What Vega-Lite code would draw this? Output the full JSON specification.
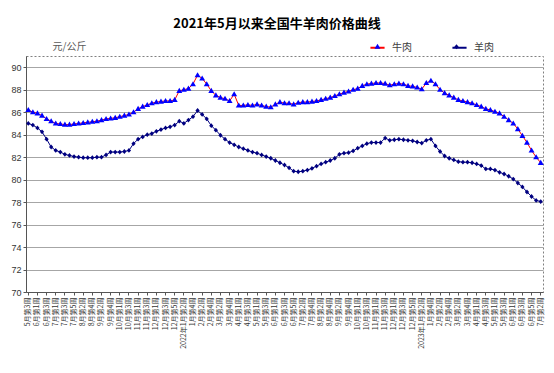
{
  "$schema": "https://vega.github.io/schema/vega-lite/v6.json",
  "width": 517,
  "height": 236,
  "autosize": {"type": "none"},
  "padding": {"left": 26, "top": 56, "right": 11, "bottom": 81},
  "background": "white",
  "title": {"text": "2021年5月以来全国牛羊肉价格曲线", "font": "Noto Sans CJK SC", "fontSize": 13, "fontWeight": "bold", "color": "#000000", "anchor": "middle", "dx": -7.5, "offset": 8},
  "data": {"values": [
    {"week": "2021年5月第3周", "牛肉": 86.2, "羊肉": 85.0},
    {"week": "2021年5月第4周", "牛肉": 86.0, "羊肉": 84.85},
    {"week": "2021年6月第1周", "牛肉": 85.9, "羊肉": 84.6},
    {"week": "2021年6月第2周", "牛肉": 85.7, "羊肉": 84.25},
    {"week": "2021年6月第3周", "牛肉": 85.4, "羊肉": 83.6},
    {"week": "2021年6月第4周", "牛肉": 85.2, "羊肉": 82.9},
    {"week": "2021年7月第1周", "牛肉": 85.0, "羊肉": 82.6},
    {"week": "2021年7月第2周", "牛肉": 84.95, "羊肉": 82.45},
    {"week": "2021年7月第3周", "牛肉": 84.9, "羊肉": 82.25},
    {"week": "2021年7月第4周", "牛肉": 84.9, "羊肉": 82.15},
    {"week": "2021年7月第5周", "牛肉": 84.95, "羊肉": 82.05},
    {"week": "2021年8月第1周", "牛肉": 85.0, "羊肉": 82.0},
    {"week": "2021年8月第2周", "牛肉": 85.05, "羊肉": 81.95},
    {"week": "2021年8月第3周", "牛肉": 85.1, "羊肉": 81.95},
    {"week": "2021年8月第4周", "牛肉": 85.15, "羊肉": 81.95},
    {"week": "2021年9月第1周", "牛肉": 85.2, "羊肉": 82.0},
    {"week": "2021年9月第2周", "牛肉": 85.3, "羊肉": 82.0},
    {"week": "2021年9月第3周", "牛肉": 85.4, "羊肉": 82.2},
    {"week": "2021年9月第4周", "牛肉": 85.45, "羊肉": 82.45},
    {"week": "2021年9月第5周", "牛肉": 85.5, "羊肉": 82.45},
    {"week": "2021年10月第1周", "牛肉": 85.6, "羊肉": 82.45},
    {"week": "2021年10月第2周", "牛肉": 85.7, "羊肉": 82.5},
    {"week": "2021年10月第3周", "牛肉": 85.8, "羊肉": 82.6},
    {"week": "2021年10月第4周", "牛肉": 86.0, "羊肉": 83.2},
    {"week": "2021年11月第1周", "牛肉": 86.3, "羊肉": 83.6},
    {"week": "2021年11月第2周", "牛肉": 86.5, "羊肉": 83.8},
    {"week": "2021年11月第3周", "牛肉": 86.65, "羊肉": 84.0},
    {"week": "2021年11月第4周", "牛肉": 86.8, "羊肉": 84.1},
    {"week": "2021年12月第1周", "牛肉": 86.9, "羊肉": 84.3},
    {"week": "2021年12月第2周", "牛肉": 86.95, "羊肉": 84.45},
    {"week": "2021年12月第3周", "牛肉": 87.0, "羊肉": 84.6},
    {"week": "2021年12月第4周", "牛肉": 87.0, "羊肉": 84.7},
    {"week": "2021年12月第5周", "牛肉": 87.1, "羊肉": 84.85},
    {"week": "2022年1月第1周", "牛肉": 87.9, "羊肉": 85.2},
    {"week": "2022年1月第2周", "牛肉": 88.0, "羊肉": 85.0},
    {"week": "2022年1月第3周", "牛肉": 88.1, "羊肉": 85.3},
    {"week": "2022年1月第4周", "牛肉": 88.5, "羊肉": 85.6},
    {"week": "2022年2月第1周", "牛肉": 89.3, "羊肉": 86.15},
    {"week": "2022年2月第2周", "牛肉": 89.0, "羊肉": 85.8},
    {"week": "2022年2月第3周", "牛肉": 88.5, "羊肉": 85.4},
    {"week": "2022年2月第4周", "牛肉": 87.9, "羊肉": 84.8},
    {"week": "2022年3月第1周", "牛肉": 87.5, "羊肉": 84.4},
    {"week": "2022年3月第2周", "牛肉": 87.3, "羊肉": 83.95},
    {"week": "2022年3月第3周", "牛肉": 87.2, "羊肉": 83.6},
    {"week": "2022年3月第4周", "牛肉": 87.0, "羊肉": 83.3},
    {"week": "2022年3月第5周", "牛肉": 87.6, "羊肉": 83.1},
    {"week": "2022年4月第1周", "牛肉": 86.6, "羊肉": 82.9},
    {"week": "2022年4月第2周", "牛肉": 86.6, "羊肉": 82.75},
    {"week": "2022年4月第3周", "牛肉": 86.65, "羊肉": 82.6},
    {"week": "2022年4月第4周", "牛肉": 86.6, "羊肉": 82.45},
    {"week": "2022年5月第1周", "牛肉": 86.7, "羊肉": 82.35},
    {"week": "2022年5月第2周", "牛肉": 86.6, "羊肉": 82.2},
    {"week": "2022年5月第3周", "牛肉": 86.5, "羊肉": 82.05},
    {"week": "2022年5月第4周", "牛肉": 86.45, "羊肉": 81.9},
    {"week": "2022年6月第1周", "牛肉": 86.7, "羊肉": 81.7},
    {"week": "2022年6月第2周", "牛肉": 86.9, "羊肉": 81.5},
    {"week": "2022年6月第3周", "牛肉": 86.8, "羊肉": 81.3},
    {"week": "2022年6月第4周", "牛肉": 86.8, "羊肉": 81.05},
    {"week": "2022年6月第5周", "牛肉": 86.7, "羊肉": 80.75},
    {"week": "2022年7月第1周", "牛肉": 86.85, "羊肉": 80.7},
    {"week": "2022年7月第2周", "牛肉": 86.9, "羊肉": 80.75},
    {"week": "2022年7月第3周", "牛肉": 86.9, "羊肉": 80.85},
    {"week": "2022年7月第4周", "牛肉": 86.95, "羊肉": 81.0},
    {"week": "2022年8月第1周", "牛肉": 87.0, "羊肉": 81.2},
    {"week": "2022年8月第2周", "牛肉": 87.1, "羊肉": 81.4},
    {"week": "2022年8月第3周", "牛肉": 87.2, "羊肉": 81.55},
    {"week": "2022年8月第4周", "牛肉": 87.3, "羊肉": 81.7},
    {"week": "2022年9月第1周", "牛肉": 87.45, "羊肉": 81.9},
    {"week": "2022年9月第2周", "牛肉": 87.6, "羊肉": 82.25},
    {"week": "2022年9月第3周", "牛肉": 87.75, "羊肉": 82.35},
    {"week": "2022年9月第4周", "牛肉": 87.85, "羊肉": 82.4},
    {"week": "2022年9月第5周", "牛肉": 88.0, "羊肉": 82.55},
    {"week": "2022年10月第1周", "牛肉": 88.1, "羊肉": 82.8},
    {"week": "2022年10月第2周", "牛肉": 88.35, "羊肉": 83.0},
    {"week": "2022年10月第3周", "牛肉": 88.5, "羊肉": 83.2},
    {"week": "2022年10月第4周", "牛肉": 88.55, "羊肉": 83.3},
    {"week": "2022年11月第1周", "牛肉": 88.6, "羊肉": 83.3},
    {"week": "2022年11月第2周", "牛肉": 88.6, "羊肉": 83.3},
    {"week": "2022年11月第3周", "牛肉": 88.55, "羊肉": 83.7},
    {"week": "2022年11月第4周", "牛肉": 88.4, "羊肉": 83.5},
    {"week": "2022年12月第1周", "牛肉": 88.5, "羊肉": 83.55},
    {"week": "2022年12月第2周", "牛肉": 88.55, "羊肉": 83.6},
    {"week": "2022年12月第3周", "牛肉": 88.5, "羊肉": 83.55},
    {"week": "2022年12月第4周", "牛肉": 88.35, "羊肉": 83.5},
    {"week": "2022年12月第5周", "牛肉": 88.3, "羊肉": 83.45},
    {"week": "2023年1月第1周", "牛肉": 88.2, "羊肉": 83.35},
    {"week": "2023年1月第2周", "牛肉": 88.05, "羊肉": 83.25},
    {"week": "2023年1月第3周", "牛肉": 88.6, "羊肉": 83.5},
    {"week": "2023年1月第4周", "牛肉": 88.8, "羊肉": 83.6},
    {"week": "2023年2月第1周", "牛肉": 88.5, "羊肉": 83.0},
    {"week": "2023年2月第2周", "牛肉": 88.0, "羊肉": 82.5},
    {"week": "2023年2月第3周", "牛肉": 87.7, "羊肉": 82.1},
    {"week": "2023年2月第4周", "牛肉": 87.5, "羊肉": 81.9},
    {"week": "2023年3月第1周", "牛肉": 87.3, "羊肉": 81.75},
    {"week": "2023年3月第2周", "牛肉": 87.1, "羊肉": 81.6},
    {"week": "2023年3月第3周", "牛肉": 87.0, "羊肉": 81.55},
    {"week": "2023年3月第4周", "牛肉": 86.9, "羊肉": 81.55},
    {"week": "2023年3月第5周", "牛肉": 86.8, "羊肉": 81.5},
    {"week": "2023年4月第1周", "牛肉": 86.65, "羊肉": 81.4},
    {"week": "2023年4月第2周", "牛肉": 86.5, "羊肉": 81.25},
    {"week": "2023年4月第3周", "牛肉": 86.3, "羊肉": 80.95},
    {"week": "2023年4月第4周", "牛肉": 86.2, "羊肉": 80.95},
    {"week": "2023年5月第1周", "牛肉": 86.05, "羊肉": 80.85},
    {"week": "2023年5月第2周", "牛肉": 85.9, "羊肉": 80.65},
    {"week": "2023年5月第3周", "牛肉": 85.6, "羊肉": 80.5},
    {"week": "2023年5月第4周", "牛肉": 85.3, "羊肉": 80.3},
    {"week": "2023年6月第1周", "牛肉": 85.0, "羊肉": 80.05},
    {"week": "2023年6月第2周", "牛肉": 84.5, "羊肉": 79.7},
    {"week": "2023年6月第3周", "牛肉": 83.9, "羊肉": 79.35},
    {"week": "2023年6月第4周", "牛肉": 83.3, "羊肉": 78.9},
    {"week": "2023年6月第5周", "牛肉": 82.6, "羊肉": 78.5},
    {"week": "2023年7月第1周", "牛肉": 82.0, "羊肉": 78.15},
    {"week": "2023年7月第2周", "牛肉": 81.5, "羊肉": 78.05}
  ]},
  "transform": [{"fold": ["牛肉", "羊肉"], "as": ["series", "price"]}],
  "encoding": {
    "x": {
      "field": "week", "type": "ordinal", "sort": null,
      "scale": {"type": "band", "paddingInner": 0, "paddingOuter": 0},
      "axis": {
        "title": null, "labelAngle": 270, "labelAlign": "right", "labelBaseline": "middle",
        "labelFont": "Noto Sans CJK SC", "labelFontSize": 7, "labelColor": "#333333",
        "labelPadding": 2, "labelOverlap": false, "labelBound": false,
        "tickSize": 3, "tickColor": "#555555", "domainColor": "#555555",
        "values": ["2021年5月第3周", "2021年6月第1周", "2021年6月第3周", "2021年7月第1周", "2021年7月第3周", "2021年7月第5周", "2021年8月第2周", "2021年8月第4周", "2021年9月第2周", "2021年9月第4周", "2021年10月第1周", "2021年10月第3周", "2021年11月第1周", "2021年11月第3周", "2021年12月第1周", "2021年12月第3周", "2021年12月第5周", "2022年1月第2周", "2022年1月第4周", "2022年2月第2周", "2022年2月第4周", "2022年3月第2周", "2022年3月第4周", "2022年4月第1周", "2022年4月第3周", "2022年5月第1周", "2022年5月第3周", "2022年6月第1周", "2022年6月第3周", "2022年6月第5周", "2022年7月第2周", "2022年7月第4周", "2022年8月第2周", "2022年8月第4周", "2022年9月第2周", "2022年9月第4周", "2022年10月第1周", "2022年10月第3周", "2022年11月第1周", "2022年11月第3周", "2022年12月第1周", "2022年12月第3周", "2022年12月第5周", "2023年1月第2周", "2023年1月第4周", "2023年2月第2周", "2023年2月第4周", "2023年3月第2周", "2023年3月第4周", "2023年4月第1周", "2023年4月第3周", "2023年5月第1周", "2023年5月第3周", "2023年6月第1周", "2023年6月第3周", "2023年6月第5周", "2023年7月第2周"],
        "labelExpr": "(datum.value == '2022年1月第2周' || datum.value == '2023年1月第2周') ? datum.value : slice(datum.value, 5)"
      }
    },
    "y": {
      "field": "price", "type": "quantitative",
      "scale": {"domain": [70, 91], "nice": false, "zero": false},
      "axis": {
        "title": "元/公斤", "titleAngle": 0, "titleAlign": "left", "titleBaseline": "middle",
        "titleX": 26, "titleY": -10, "titleFont": "Noto Sans CJK SC", "titleFontSize": 10,
        "titleFontWeight": "normal", "titleColor": "#595959",
        "values": [70, 72, 74, 76, 78, 80, 82, 84, 86, 88, 90],
        "labelFont": "Liberation Sans", "labelFontSize": 9, "labelColor": "#333333", "labelPadding": 2,
        "tickSize": 3, "tickColor": "#555555", "domainColor": "#555555",
        "grid": true, "gridColor": "#A6A6A6", "gridWidth": 1
      }
    }
  },
  "layer": [
    {
      "mark": {"type": "line", "strokeWidth": 1},
      "encoding": {
        "color": {
          "field": "series", "type": "nominal",
          "scale": {"domain": ["牛肉", "羊肉"], "range": ["#FF0000", "#000080"]},
          "legend": {"title": null, "orient": "none", "legendX": 343, "legendY": -17, "direction": "horizontal",
            "symbolType": "stroke", "symbolSize": 200, "symbolStrokeWidth": 2,
            "labelFont": "Noto Sans CJK SC", "labelFontSize": 10, "labelColor": "#404040", "labelOffset": 6, "columnPadding": 36}
        }
      }
    },
    {
      "mark": {"type": "point", "filled": true, "size": 200, "opacity": 1, "strokeWidth": 0},
      "encoding": {
        "fill": {
          "field": "series", "type": "nominal",
          "scale": {"range": ["#0000FF", "#000080"]},
          "legend": {"title": null, "orient": "none", "legendX": 344, "legendY": -17, "direction": "horizontal",
            "symbolSize": 200, "symbolStrokeWidth": 0,
            "labelFont": "Noto Sans CJK SC", "labelFontSize": 10, "labelOpacity": 0, "labelOffset": 8, "columnPadding": 36}
        },
        "shape": {
          "field": "series", "type": "nominal",
          "scale": {"range": ["M0,-0.42L0.42,0.3L-0.42,0.3Z", "M0,-0.34L0.3,0L0,0.34L-0.3,0Z"]},
          "legend": {"title": null, "orient": "none", "legendX": 344, "legendY": -17, "direction": "horizontal",
            "symbolSize": 200, "symbolStrokeWidth": 0,
            "labelFont": "Noto Sans CJK SC", "labelFontSize": 10, "labelOpacity": 0, "labelOffset": 8, "columnPadding": 36}
        }
      }
    }
  ],
  "config": {
    "view": {"stroke": "#808080", "strokeDash": [2, 2]}
  }
}
